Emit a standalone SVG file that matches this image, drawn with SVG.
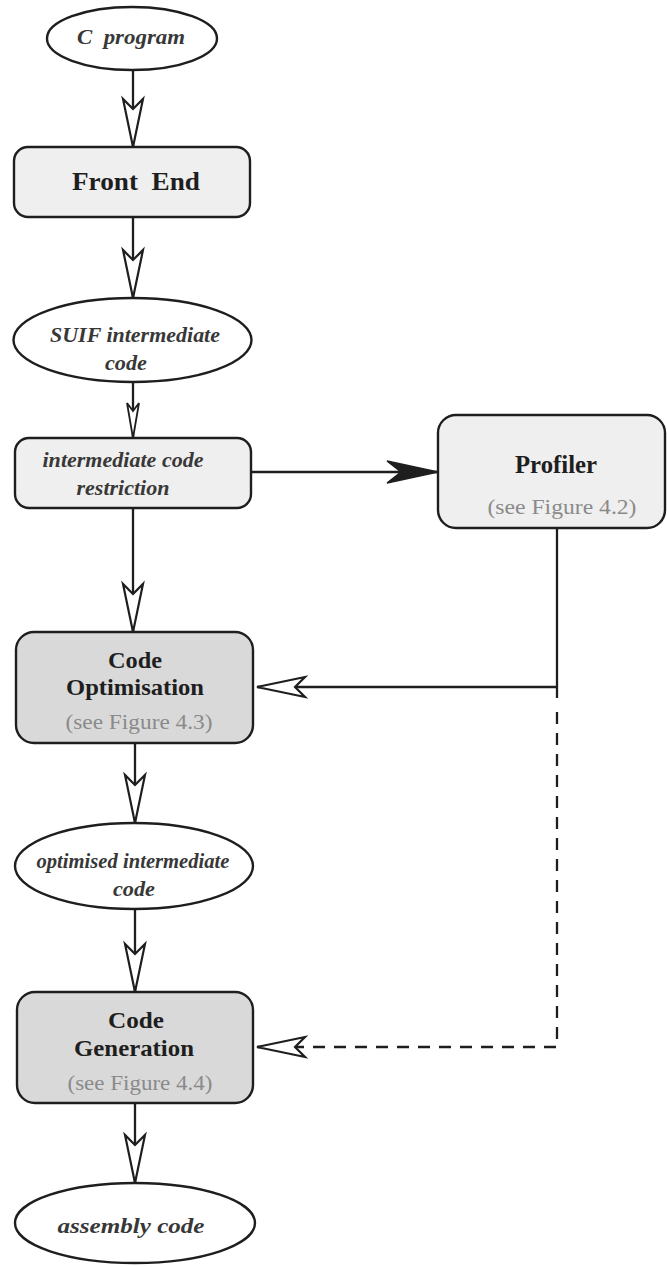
<svg xmlns="http://www.w3.org/2000/svg" width="667" height="1267" viewBox="0 0 667 1267">
  <style>
    .term { fill: #ffffff; stroke: #1e1e1e; stroke-width: 2.4; }
    .proc { fill: #efefef; stroke: #1e1e1e; stroke-width: 2.4; }
    .proc-dark { fill: #d9d9d9; stroke: #1e1e1e; stroke-width: 2.4; }
    .link { fill: none; stroke: #1e1e1e; stroke-width: 2.3; }
    .dashed { stroke-dasharray: 12 9; }
    .it { font-family: "Liberation Serif", "DejaVu Serif", serif; font-style: italic; font-weight: bold; fill: #383838; text-anchor: middle; }
    .title { font-family: "Liberation Serif", "DejaVu Serif", serif; font-weight: bold; fill: #1e1e1e; text-anchor: middle; }
    .ref { font-family: "Liberation Serif", "DejaVu Serif", serif; fill: #8a8a8a; text-anchor: middle; font-size: 22px; }
  </style>
  <defs>
    <marker id="open" markerUnits="userSpaceOnUse" orient="auto" refX="0" refY="0" markerWidth="60" markerHeight="30" overflow="visible">
      <path d="M0,0 L-48,-10 L-38,0 L-48,10 Z" fill="#ffffff" stroke="#1e1e1e" stroke-width="2.2" stroke-linejoin="miter" stroke-dasharray="none"/>
    </marker>
    <marker id="open-thin" markerUnits="userSpaceOnUse" orient="auto" refX="0" refY="0" markerWidth="40" markerHeight="20" overflow="visible">
      <path d="M0,0 L-35,-6 L-27,0 L-35,6 Z" fill="#ffffff" stroke="#1e1e1e" stroke-width="1.8" stroke-dasharray="none"/>
    </marker>
    <marker id="solid" markerUnits="userSpaceOnUse" orient="auto" refX="0" refY="0" markerWidth="60" markerHeight="30" overflow="visible">
      <path d="M0,0 L-51,-11 L-37,0 L-51,11 Z" fill="#1e1e1e" stroke="#1e1e1e" stroke-width="1.5" stroke-dasharray="none"/>
    </marker>
  </defs>

  <!-- connectors -->
  <g id="connectors">
    <path class="link" d="M133,70 V147" marker-end="url(#open)"/>
    <path class="link" d="M133,217 V298" marker-end="url(#open)"/>
    <path class="link" d="M133,382 V438" stroke-width="1.8" marker-end="url(#open-thin)"/>
    <path class="link" d="M251,472 H438" marker-end="url(#solid)"/>
    <path class="link" d="M133,508 V632" marker-end="url(#open)"/>
    <path class="link" d="M557,528 V698 M557,687 H257" marker-end="url(#open)"/>
    <path class="link dashed" d="M557,712 V1047 H257" marker-end="url(#open)"/>
    <path class="link" d="M135,743 V823" marker-end="url(#open)"/>
    <path class="link" d="M135,909 V992" marker-end="url(#open)"/>
    <path class="link" d="M135,1103 V1183" marker-end="url(#open)"/>
  </g>

  <!-- source program -->
  <g id="c-program">
    <ellipse class="term" cx="132" cy="38.5" rx="85" ry="31.5"/>
    <text class="it" x="131" y="44" font-size="21" textLength="108" lengthAdjust="spacingAndGlyphs" xml:space="preserve">C  program</text>
  </g>

  <g id="front-end">
    <rect class="proc" x="14" y="147" width="236" height="70" rx="14"/>
    <text class="title" x="136" y="190" font-size="25" textLength="128" lengthAdjust="spacingAndGlyphs" xml:space="preserve">Front  End</text>
  </g>

  <g id="suif-code">
    <ellipse class="term" cx="132.5" cy="340" rx="119" ry="42"/>
    <text class="it" x="135" y="342" font-size="21" textLength="170" lengthAdjust="spacingAndGlyphs">SUIF intermediate</text>
    <text class="it" x="126" y="370" font-size="21" textLength="42" lengthAdjust="spacingAndGlyphs">code</text>
  </g>

  <g id="code-restriction">
    <rect class="proc" x="15" y="438" width="236" height="70" rx="14"/>
    <text class="it" x="123" y="467" font-size="22" fill="#2a2a2a" textLength="161" lengthAdjust="spacingAndGlyphs">intermediate code</text>
    <text class="it" x="123" y="495" font-size="22" fill="#2a2a2a" textLength="93" lengthAdjust="spacingAndGlyphs">restriction</text>
  </g>

  <g id="profiler">
    <rect class="proc" x="438" y="415" width="227" height="113" rx="18"/>
    <text class="title" x="556" y="473" font-size="25" textLength="82" lengthAdjust="spacingAndGlyphs">Profiler</text>
    <text class="ref" x="562" y="514" textLength="149" lengthAdjust="spacingAndGlyphs">(see Figure 4.2)</text>
  </g>

  <g id="code-optimisation">
    <rect class="proc-dark" x="16" y="632" width="237" height="111" rx="18"/>
    <text class="title" x="135" y="668" font-size="24" textLength="54" lengthAdjust="spacingAndGlyphs">Code</text>
    <text class="title" x="135" y="695" font-size="24" textLength="138" lengthAdjust="spacingAndGlyphs">Optimisation</text>
    <text class="ref" x="139" y="729" textLength="147" lengthAdjust="spacingAndGlyphs">(see Figure 4.3)</text>
  </g>

  <g id="optimised-code">
    <ellipse class="term" cx="134" cy="866" rx="119" ry="43"/>
    <text class="it" x="133" y="868" font-size="21" textLength="193" lengthAdjust="spacingAndGlyphs">optimised intermediate</text>
    <text class="it" x="134" y="896" font-size="21" textLength="42" lengthAdjust="spacingAndGlyphs">code</text>
  </g>

  <g id="code-generation">
    <rect class="proc-dark" x="17" y="992" width="236" height="111" rx="18"/>
    <text class="title" x="136" y="1028" font-size="24" textLength="56" lengthAdjust="spacingAndGlyphs">Code</text>
    <text class="title" x="134" y="1056" font-size="24" textLength="120" lengthAdjust="spacingAndGlyphs">Generation</text>
    <text class="ref" x="140" y="1090" textLength="145" lengthAdjust="spacingAndGlyphs">(see Figure 4.4)</text>
  </g>

  <g id="assembly-code">
    <ellipse class="term" cx="135" cy="1223" rx="120" ry="40"/>
    <text class="it" x="131" y="1233" font-size="22" textLength="147" lengthAdjust="spacingAndGlyphs">assembly code</text>
  </g>
</svg>
